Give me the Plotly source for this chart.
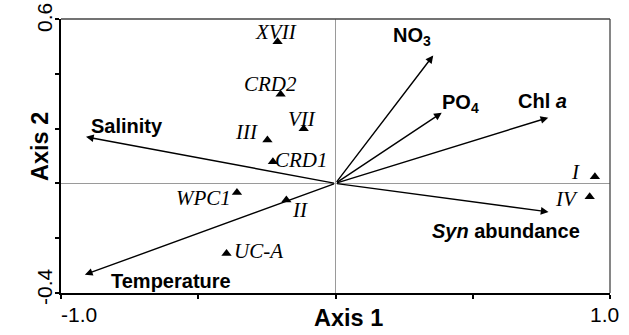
import plotly.graph_objects as go

# ---- data ----
site_names = ["XVII", "CRD2", "III", "VII", "CRD1", "WPC1", "II", "UC-A", "I", "IV"]
site_x = [-0.211, -0.200, -0.248, -0.116, -0.228, -0.359, -0.179, -0.397, 0.945, 0.926]
site_y = [0.517, 0.325, 0.158, 0.199, 0.079, -0.033, -0.061, -0.256, 0.024, -0.049]

var_names = ["NO<sub>3</sub>", "PO<sub>4</sub>", "Chl <i>a</i>", "Salinity", "Temperature",
             "<i>Syn</i> abundance"]
var_x = [0.356, 0.387, 0.775, -0.909, -0.913, 0.776]
var_y = [0.467, 0.258, 0.240, 0.170, -0.333, -0.104]

x_tick_vals = [-1.0, -0.5, 0.0, 0.5, 1.0]
x_tick_text = ["-1.0", "", "", "", "1.0"]
y_tick_vals = [-0.4, -0.2, 0.0, 0.2, 0.4, 0.6]
y_tick_text = ["-0.4", "", "", "", "", "0.6"]

# ---- styles (pixel offsets for labels) ----
site_label_shift = {
    "XVII": (-2, 10), "CRD2": (-10, 10), "III": (-21, 8), "VII": (-2, 10),
    "CRD1": (29, 2), "WPC1": (-33, -6), "II": (14, -10), "UC-A": (32, 3),
    "I": (-19, 5), "IV": (-23, -2),
}
var_label_shift = [(-21, 19), (19, 9), (-6, 17), (41, 11), (86, -6), (-43, -19)]

SANS = "Liberation Sans, Arial, sans-serif"
SERIF = "Liberation Serif, Times New Roman, serif"

fig = go.Figure()

fig.add_trace(go.Scatter(
    x=site_x, y=site_y, mode="markers",
    marker=dict(symbol="triangle-up", size=9, color="black"),
    hoverinfo="skip", showlegend=False,
))

annotations = []
# vectors
for name, vx, vy, (sx, sy) in zip(var_names, var_x, var_y, var_label_shift):
    annotations.append(dict(
        x=vx, y=vy, ax=0, ay=0, xref="x", yref="y", axref="x", ayref="y",
        text="", showarrow=True, arrowhead=2, arrowsize=1.1, arrowwidth=1.4,
        arrowcolor="black",
    ))
    annotations.append(dict(
        x=vx, y=vy, xref="x", yref="y", text="<b>" + name + "</b>", showarrow=False,
        xshift=sx, yshift=sy, font=dict(family=SANS, size=20, color="black"),
    ))
# site labels
for name, px, py in zip(site_names, site_x, site_y):
    sx, sy = site_label_shift[name]
    annotations.append(dict(
        x=px, y=py, xref="x", yref="y", text="<i>" + name + "</i>", showarrow=False,
        xshift=sx, yshift=sy, font=dict(family=SERIF, size=21, color="black"),
    ))

# tick labels as annotations (only ends)
x_label_shift = {"-1.0": 18, "1.0": -6}
for v, t in zip(x_tick_vals, x_tick_text):
    if t:
        annotations.append(dict(
            x=v, y=0, xref="x", yref="paper", text=t, showarrow=False,
            xshift=x_label_shift[t], yshift=-21, yanchor="middle",
            font=dict(family=SANS, size=21, color="black"),
        ))
y_label_shift = {"-0.4": 6, "0.6": 1}
for v, t in zip(y_tick_vals, y_tick_text):
    if t:
        annotations.append(dict(
            x=0, y=v, xref="paper", yref="y", text=t, showarrow=False,
            xshift=-17, yshift=y_label_shift[t], textangle=-90, xanchor="center",
            font=dict(family=SANS, size=21, color="black"),
        ))

# axis titles
annotations.append(dict(
    x=0.5, y=0, xref="paper", yref="paper", text="<b>Axis 1</b>", showarrow=False,
    xshift=13, yshift=-25, yanchor="middle", font=dict(family=SANS, size=23.5, color="black"),
))
annotations.append(dict(
    x=0, y=0.5, xref="paper", yref="paper", text="<b>Axis 2</b>", showarrow=False,
    xshift=-36, yshift=9, textangle=-90, font=dict(family=SANS, size=23.5, color="black"),
))

fig.update_layout(
    width=629, height=335,
    margin=dict(l=61, r=19, t=19, b=42),
    paper_bgcolor="white", plot_bgcolor="white",
    annotations=annotations,
    showlegend=False,
    xaxis=dict(
        range=[-1.0, 1.0], tickvals=x_tick_vals, showticklabels=False,
        ticks="outside", ticklen=4, tickwidth=1.5, tickcolor="black",
        showline=True, linecolor="black", linewidth=2, mirror=False,
        showgrid=False, zeroline=True, zerolinecolor="#9a9a9a", zerolinewidth=1,
        fixedrange=True,
    ),
    yaxis=dict(
        range=[-0.4, 0.6], tickvals=y_tick_vals, showticklabels=False,
        ticks="outside", ticklen=4, tickwidth=1.5, tickcolor="black",
        showline=True, linecolor="black", linewidth=2, mirror=False,
        showgrid=False, zeroline=True, zerolinecolor="#9a9a9a", zerolinewidth=1,
        fixedrange=True,
    ),
    shapes=[
        dict(type="line", xref="paper", yref="paper", x0=0, x1=1, y0=1, y1=1,
             line=dict(color="#444444", width=1.3)),
        dict(type="line", xref="paper", yref="paper", x0=1, x1=1, y0=0, y1=1,
             line=dict(color="#444444", width=1.3)),
    ],
)

fig.write_html("out.html")
